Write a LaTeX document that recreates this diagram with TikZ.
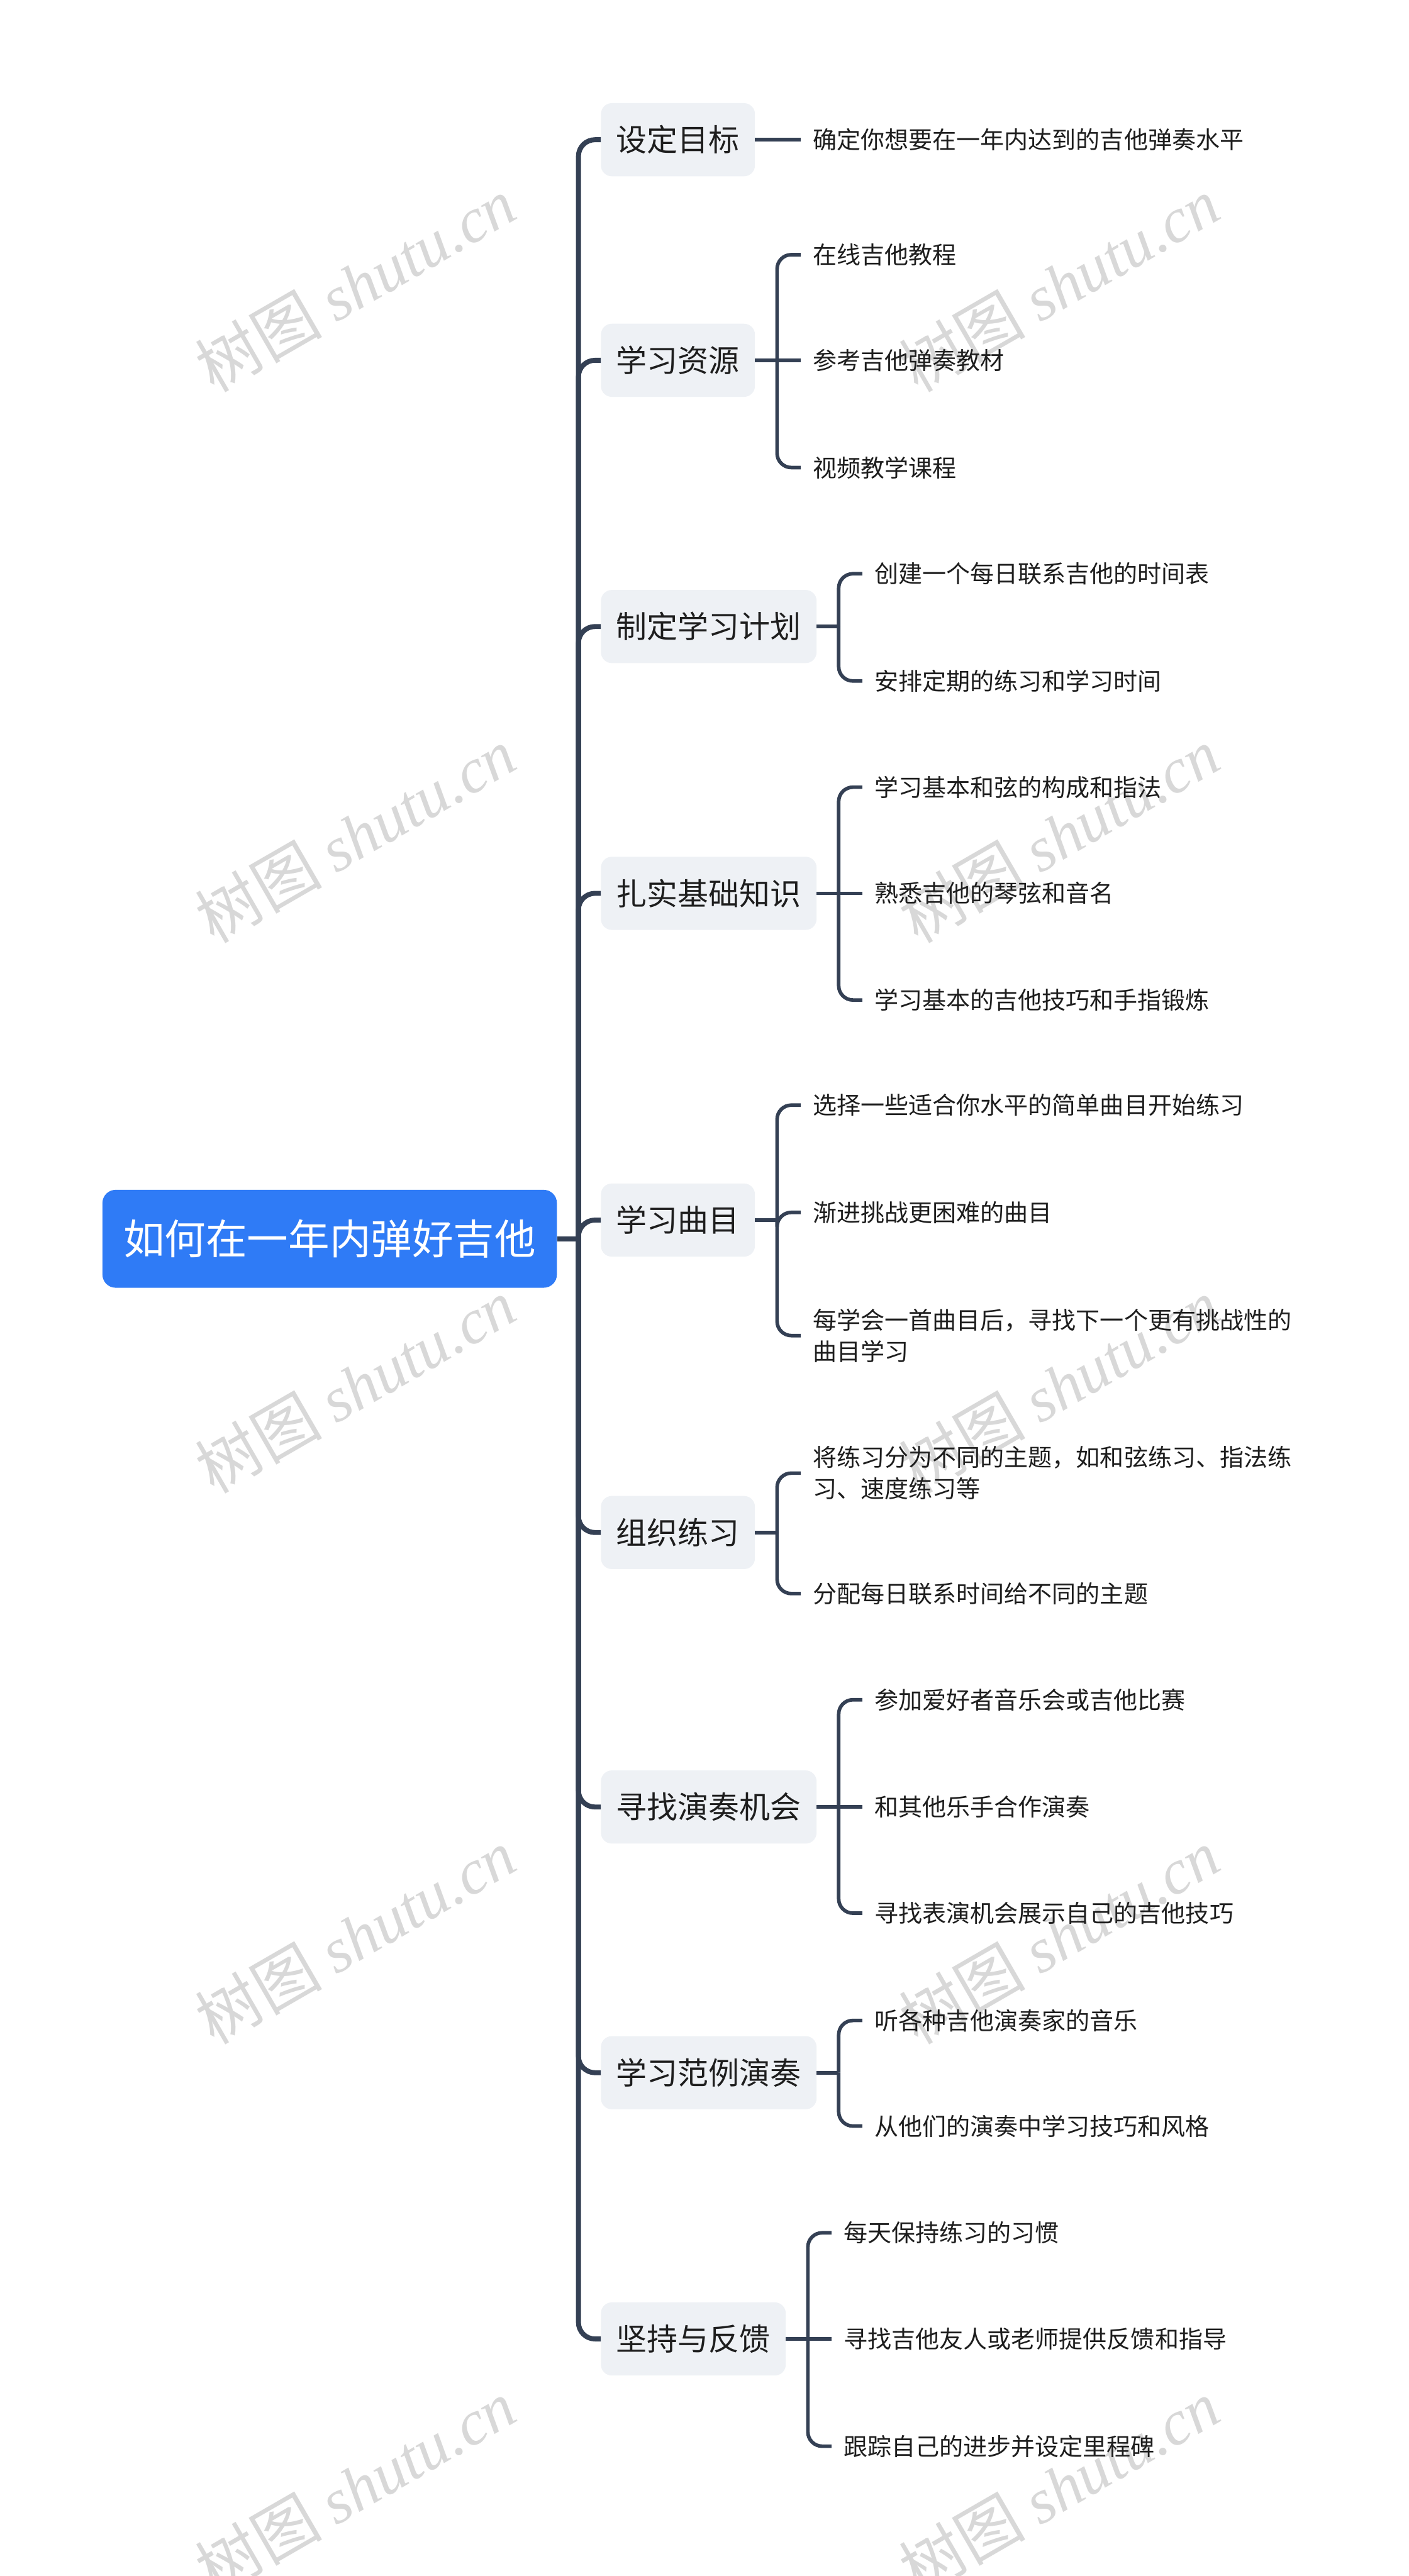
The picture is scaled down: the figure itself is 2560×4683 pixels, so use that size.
\documentclass[tikz,border=0pt]{standalone}
\usepackage{fontspec}
\setmainfont{Noto Sans CJK SC}
\newfontfamily\markfont{Liberation Serif}
\usetikzlibrary{positioning}
\definecolor{rootblue}{HTML}{2F7BF6}
\definecolor{boxgray}{HTML}{EEF1F5}
\definecolor{linecol}{HTML}{344054}
\definecolor{inkcol}{HTML}{1E1E1E}
\definecolor{markgray}{HTML}{D8D8D8}
\tikzstyle{title} = [rectangle, rounded corners=24pt, fill=rootblue, text=white, minimum height=178pt, inner xsep=38pt, font=\fontsize{75}{90}\selectfont]
\tikzstyle{subject} = [rectangle, rounded corners=20pt, fill=boxgray, text=inkcol, minimum height=133pt, inner xsep=28pt, font=\fontsize{56}{67}\selectfont]
\tikzstyle{item} = [rectangle, inner xsep=22pt, inner ysep=0pt, align=left, text=inkcol, font=\fontsize{43.5}{57}\selectfont]
\tikzstyle{trunk} = [draw=linecol, line width=9pt, rounded corners=30pt]
\tikzstyle{twig} = [draw=linecol, line width=6.5pt, rounded corners=26pt]
\tikzstyle{wmark} = [text=markgray, rotate=30, font=\fontsize{115}{130}\selectfont]

\begin{document}
\begin{tikzpicture}[x=1pt, y=-1pt]
  \useasboundingbox[fill=white] (0,0) rectangle (2560,4683);
  % watermarks
  \node[wmark] (wm1) at (646,517) {树图 {\markfont\itshape shutu.cn}};
  \node[wmark] (wm2) at (646,1518) {树图 {\markfont\itshape shutu.cn}};
  \node[wmark] (wm3) at (646,2519) {树图 {\markfont\itshape shutu.cn}};
  \node[wmark] (wm4) at (646,3520) {树图 {\markfont\itshape shutu.cn}};
  \node[wmark] (wm5) at (646,4521) {树图 {\markfont\itshape shutu.cn}};
  \node[wmark] (wm6) at (1925,517) {树图 {\markfont\itshape shutu.cn}};
  \node[wmark] (wm7) at (1925,1518) {树图 {\markfont\itshape shutu.cn}};
  \node[wmark] (wm8) at (1925,2519) {树图 {\markfont\itshape shutu.cn}};
  \node[wmark] (wm9) at (1925,3520) {树图 {\markfont\itshape shutu.cn}};
  \node[wmark] (wm10) at (1925,4521) {树图 {\markfont\itshape shutu.cn}};

  \node[title, anchor=west] (year) at (186,2252) {如何在一年内弹好吉他};

  \node[subject, anchor=west] (goal) at (1092,254) {设定目标};
  \node[subject, anchor=west] (resource) at (1092,655) {学习资源};
  \node[subject, anchor=west] (plan) at (1092,1139) {制定学习计划};
  \node[subject, anchor=west] (basics) at (1092,1624) {扎实基础知识};
  \node[subject, anchor=west] (songs) at (1092,2218) {学习曲目};
  \node[subject, anchor=west] (practice) at (1092,2786) {组织练习};
  \node[subject, anchor=west] (perform) at (1092,3285) {寻找演奏机会};
  \node[subject, anchor=west] (examples) at (1092,3768) {学习范例演奏};
  \node[subject, anchor=west] (persist) at (1092,4252) {坚持与反馈};

  \node[item, right=83pt of goal] (goal1) {确定你想要在一年内达到的吉他弹奏水平};

  \node[item, right=83pt of resource, yshift=192pt] (resource1) {在线吉他教程};
  \node[item, right=83pt of resource] (resource2) {参考吉他弹奏教材};
  \node[item, right=83pt of resource, yshift=-195pt] (resource3) {视频教学课程};

  \node[item, right=83pt of plan, yshift=96pt] (plan1) {创建一个每日联系吉他的时间表};
  \node[item, right=83pt of plan, yshift=-99pt] (plan2) {安排定期的练习和学习时间};

  \node[item, right=83pt of basics, yshift=193pt] (basics1) {学习基本和弦的构成和指法};
  \node[item, right=83pt of basics] (basics2) {熟悉吉他的琴弦和音名};
  \node[item, right=83pt of basics, yshift=-194pt] (basics3) {学习基本的吉他技巧和手指锻炼};

  \node[item, right=83pt of songs, yshift=209pt] (songs1) {选择一些适合你水平的简单曲目开始练习};
  \node[item, right=83pt of songs, yshift=14pt] (songs2) {渐进挑战更困难的曲目};
  \node[item, right=83pt of songs, yshift=-210pt] (songs3) {每学会一首曲目后，寻找下一个更有挑战性的\\曲目学习};

  \node[item, right=83pt of practice, yshift=108pt] (practice1) {将练习分为不同的主题，如和弦练习、指法练\\习、速度练习等};
  \node[item, right=83pt of practice, yshift=-111pt] (practice2) {分配每日联系时间给不同的主题};

  \node[item, right=83pt of perform, yshift=195pt] (perform1) {参加爱好者音乐会或吉他比赛};
  \node[item, right=83pt of perform] (perform2) {和其他乐手合作演奏};
  \node[item, right=83pt of perform, yshift=-193pt] (perform3) {寻找表演机会展示自己的吉他技巧};

  \node[item, right=83pt of examples, yshift=95pt] (examples1) {听各种吉他演奏家的音乐};
  \node[item, right=83pt of examples, yshift=-97pt] (examples2) {从他们的演奏中学习技巧和风格};

  \node[item, right=83pt of persist, yshift=193pt] (persist1) {每天保持练习的习惯};
  \node[item, right=83pt of persist] (persist2) {寻找吉他友人或老师提供反馈和指导};
  \node[item, right=83pt of persist, yshift=-195pt] (persist3) {跟踪自己的进步并设定里程碑};

  % main connectors
  \draw[trunk] (year.east) -- ++(39pt,0pt) coordinate (hub);
  \draw[trunk] (hub) |- (goal.west);
  \draw[trunk] (hub) |- (resource.west);
  \draw[trunk] (hub) |- (plan.west);
  \draw[trunk] (hub) |- (basics.west);
  \draw[trunk] (hub) |- (songs.west);
  \draw[trunk] (hub) |- (practice.west);
  \draw[trunk] (hub) |- (perform.west);
  \draw[trunk] (hub) |- (examples.west);
  \draw[trunk] (hub) |- (persist.west);

  % item connectors
  \draw[twig] (goal.east) -- (goal1.west);

  \draw[twig] (resource.east) -- ++(40pt,0pt) coordinate (resourcebus);
  \draw[twig] (resourcebus) |- (resource1.west);
  \draw[twig] (resourcebus) -- (resource2.west);
  \draw[twig] (resourcebus) |- (resource3.west);

  \draw[twig] (plan.east) -- ++(40pt,0pt) coordinate (planbus);
  \draw[twig] (planbus) |- (plan1.west);
  \draw[twig] (planbus) |- (plan2.west);

  \draw[twig] (basics.east) -- ++(40pt,0pt) coordinate (basicsbus);
  \draw[twig] (basicsbus) |- (basics1.west);
  \draw[twig] (basicsbus) -- (basics2.west);
  \draw[twig] (basicsbus) |- (basics3.west);

  \draw[twig] (songs.east) -- ++(40pt,0pt) coordinate (songsbus);
  \draw[twig] (songsbus) |- (songs1.west);
  \draw[twig] (songsbus) |- (songs2.west);
  \draw[twig] (songsbus) |- (songs3.west);

  \draw[twig] (practice.east) -- ++(40pt,0pt) coordinate (practicebus);
  \draw[twig] (practicebus) |- (practice1.west);
  \draw[twig] (practicebus) |- (practice2.west);

  \draw[twig] (perform.east) -- ++(40pt,0pt) coordinate (performbus);
  \draw[twig] (performbus) |- (perform1.west);
  \draw[twig] (performbus) -- (perform2.west);
  \draw[twig] (performbus) |- (perform3.west);

  \draw[twig] (examples.east) -- ++(40pt,0pt) coordinate (examplesbus);
  \draw[twig] (examplesbus) |- (examples1.west);
  \draw[twig] (examplesbus) |- (examples2.west);

  \draw[twig] (persist.east) -- ++(40pt,0pt) coordinate (persistbus);
  \draw[twig] (persistbus) |- (persist1.west);
  \draw[twig] (persistbus) -- (persist2.west);
  \draw[twig] (persistbus) |- (persist3.west);
\end{tikzpicture}
\end{document}
